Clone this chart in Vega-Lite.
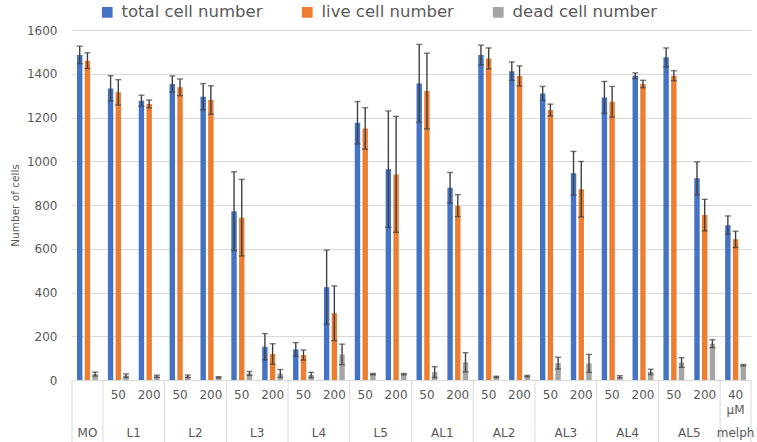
{
  "$schema": "https://vega.github.io/schema/vega-lite/v6.json",
  "padding": {"left": 10, "top": 4, "right": 5, "bottom": 0},
  "spacing": 0,
  "bounds": "flush",
  "config": {
    "font": "DejaVu Sans",
    "view": {"stroke": null},
    "legend": {
      "orient": "none", "legendX": 27, "legendY": -26, "direction": "horizontal",
      "symbolType": "square", "symbolSize": 115, "symbolStrokeWidth": 0,
      "labelFont": "DejaVu Sans", "labelFontSize": 16.5, "labelColor": "#595959",
      "labelOffset": 6, "columnPadding": 36
    }
  },
  "datasets": {
    "bars": [
      {"cat": "MO", "series": "total cell number", "value": 1486, "err": 40},
      {"cat": "MO", "series": "live cell number", "value": 1460, "err": 36},
      {"cat": "MO", "series": "dead cell number", "value": 27, "err": 9},
      {"cat": "L1 50", "series": "total cell number", "value": 1333, "err": 58},
      {"cat": "L1 50", "series": "live cell number", "value": 1315, "err": 58},
      {"cat": "L1 50", "series": "dead cell number", "value": 20, "err": 8},
      {"cat": "L1 200", "series": "total cell number", "value": 1277, "err": 25},
      {"cat": "L1 200", "series": "live cell number", "value": 1262, "err": 18},
      {"cat": "L1 200", "series": "dead cell number", "value": 17, "err": 5},
      {"cat": "L2 50", "series": "total cell number", "value": 1353, "err": 37},
      {"cat": "L2 50", "series": "live cell number", "value": 1338, "err": 38},
      {"cat": "L2 50", "series": "dead cell number", "value": 17, "err": 6},
      {"cat": "L2 200", "series": "total cell number", "value": 1295, "err": 60},
      {"cat": "L2 200", "series": "live cell number", "value": 1280, "err": 65},
      {"cat": "L2 200", "series": "dead cell number", "value": 12, "err": 3},
      {"cat": "L3 50", "series": "total cell number", "value": 772, "err": 180},
      {"cat": "L3 50", "series": "live cell number", "value": 742, "err": 175},
      {"cat": "L3 50", "series": "dead cell number", "value": 30, "err": 9},
      {"cat": "L3 200", "series": "total cell number", "value": 152, "err": 60},
      {"cat": "L3 200", "series": "live cell number", "value": 119, "err": 47},
      {"cat": "L3 200", "series": "dead cell number", "value": 30, "err": 18},
      {"cat": "L4 50", "series": "total cell number", "value": 140, "err": 31},
      {"cat": "L4 50", "series": "live cell number", "value": 114, "err": 23},
      {"cat": "L4 50", "series": "dead cell number", "value": 23, "err": 12},
      {"cat": "L4 200", "series": "total cell number", "value": 424, "err": 170},
      {"cat": "L4 200", "series": "live cell number", "value": 305, "err": 125},
      {"cat": "L4 200", "series": "dead cell number", "value": 117, "err": 47},
      {"cat": "L5 50", "series": "total cell number", "value": 1176, "err": 97},
      {"cat": "L5 50", "series": "live cell number", "value": 1150, "err": 95},
      {"cat": "L5 50", "series": "dead cell number", "value": 27, "err": 3},
      {"cat": "L5 200", "series": "total cell number", "value": 964, "err": 266},
      {"cat": "L5 200", "series": "live cell number", "value": 940, "err": 265},
      {"cat": "L5 200", "series": "dead cell number", "value": 27, "err": 3},
      {"cat": "AL1 50", "series": "total cell number", "value": 1356, "err": 178},
      {"cat": "AL1 50", "series": "live cell number", "value": 1321, "err": 173},
      {"cat": "AL1 50", "series": "dead cell number", "value": 36, "err": 25},
      {"cat": "AL1 200", "series": "total cell number", "value": 879, "err": 70},
      {"cat": "AL1 200", "series": "live cell number", "value": 797, "err": 50},
      {"cat": "AL1 200", "series": "dead cell number", "value": 81, "err": 44},
      {"cat": "AL2 50", "series": "total cell number", "value": 1486, "err": 45},
      {"cat": "AL2 50", "series": "live cell number", "value": 1470, "err": 48},
      {"cat": "AL2 50", "series": "dead cell number", "value": 14, "err": 3},
      {"cat": "AL2 200", "series": "total cell number", "value": 1412, "err": 42},
      {"cat": "AL2 200", "series": "live cell number", "value": 1390, "err": 46},
      {"cat": "AL2 200", "series": "dead cell number", "value": 18, "err": 3},
      {"cat": "AL3 50", "series": "total cell number", "value": 1310, "err": 32},
      {"cat": "AL3 50", "series": "live cell number", "value": 1234, "err": 27},
      {"cat": "AL3 50", "series": "dead cell number", "value": 77, "err": 27},
      {"cat": "AL3 200", "series": "total cell number", "value": 945, "err": 100},
      {"cat": "AL3 200", "series": "live cell number", "value": 872, "err": 127},
      {"cat": "AL3 200", "series": "dead cell number", "value": 76, "err": 41},
      {"cat": "AL4 50", "series": "total cell number", "value": 1292, "err": 73},
      {"cat": "AL4 50", "series": "live cell number", "value": 1272, "err": 70},
      {"cat": "AL4 50", "series": "dead cell number", "value": 15, "err": 5},
      {"cat": "AL4 200", "series": "total cell number", "value": 1391, "err": 13},
      {"cat": "AL4 200", "series": "live cell number", "value": 1353, "err": 17},
      {"cat": "AL4 200", "series": "dead cell number", "value": 37, "err": 12},
      {"cat": "AL5 50", "series": "total cell number", "value": 1475, "err": 43},
      {"cat": "AL5 50", "series": "live cell number", "value": 1391, "err": 23},
      {"cat": "AL5 50", "series": "dead cell number", "value": 80, "err": 22},
      {"cat": "AL5 200", "series": "total cell number", "value": 922, "err": 75},
      {"cat": "AL5 200", "series": "live cell number", "value": 754, "err": 72},
      {"cat": "AL5 200", "series": "dead cell number", "value": 166, "err": 18},
      {"cat": "melph", "series": "total cell number", "value": 708, "err": 42},
      {"cat": "melph", "series": "live cell number", "value": 643, "err": 37},
      {"cat": "melph", "series": "dead cell number", "value": 68, "err": 3}
    ],
    "sublabels": [
      {"cat": "L1 50", "label": "50", "line": 1}, {"cat": "L1 200", "label": "200", "line": 1},
      {"cat": "L2 50", "label": "50", "line": 1}, {"cat": "L2 200", "label": "200", "line": 1},
      {"cat": "L3 50", "label": "50", "line": 1}, {"cat": "L3 200", "label": "200", "line": 1},
      {"cat": "L4 50", "label": "50", "line": 1}, {"cat": "L4 200", "label": "200", "line": 1},
      {"cat": "L5 50", "label": "50", "line": 1}, {"cat": "L5 200", "label": "200", "line": 1},
      {"cat": "AL1 50", "label": "50", "line": 1}, {"cat": "AL1 200", "label": "200", "line": 1},
      {"cat": "AL2 50", "label": "50", "line": 1}, {"cat": "AL2 200", "label": "200", "line": 1},
      {"cat": "AL3 50", "label": "50", "line": 1}, {"cat": "AL3 200", "label": "200", "line": 1},
      {"cat": "AL4 50", "label": "50", "line": 1}, {"cat": "AL4 200", "label": "200", "line": 1},
      {"cat": "AL5 50", "label": "50", "line": 1}, {"cat": "AL5 200", "label": "200", "line": 1},
      {"cat": "melph", "label": "40", "line": 1}, {"cat": "melph", "label": "µM", "line": 2}
    ],
    "pairgroups": [
      {"cat": "L1 50", "label": "L1", "line": 3.5}, {"cat": "L2 50", "label": "L2", "line": 3.5},
      {"cat": "L3 50", "label": "L3", "line": 3.5}, {"cat": "L4 50", "label": "L4", "line": 3.5},
      {"cat": "L5 50", "label": "L5", "line": 3.5}, {"cat": "AL1 50", "label": "AL1", "line": 3.5},
      {"cat": "AL2 50", "label": "AL2", "line": 3.5}, {"cat": "AL3 50", "label": "AL3", "line": 3.5},
      {"cat": "AL4 50", "label": "AL4", "line": 3.5}, {"cat": "AL5 50", "label": "AL5", "line": 3.5}
    ],
    "singlegroups": [
      {"cat": "MO", "label": "MO", "line": 3.5}, {"cat": "melph", "label": "melph", "line": 3.5}
    ],
    "groupstarts": [
      {"cat": "MO"}, {"cat": "L1 50"}, {"cat": "L2 50"}, {"cat": "L3 50"}, {"cat": "L4 50"},
      {"cat": "L5 50"}, {"cat": "AL1 50"}, {"cat": "AL2 50"}, {"cat": "AL3 50"}, {"cat": "AL4 50"},
      {"cat": "AL5 50"}, {"cat": "melph"}
    ],
    "lastcat": [{"cat": "melph"}]
  },
  "vconcat": [
    {
      "width": 679,
      "height": 350,
      "data": {"name": "bars"},
      "encoding": {
        "x": {
          "field": "cat", "type": "nominal", "axis": null,
          "scale": {
            "domain": ["MO","L1 50","L1 200","L2 50","L2 200","L3 50","L3 200","L4 50","L4 200","L5 50","L5 200","AL1 50","AL1 200","AL2 50","AL2 200","AL3 50","AL3 200","AL4 50","AL4 200","AL5 50","AL5 200","melph"],
            "paddingInner": 0, "paddingOuter": 0
          }
        },
        "xOffset": {
          "field": "series", "type": "nominal",
          "scale": {"domain": ["total cell number", "live cell number", "dead cell number"], "paddingInner": 0.3, "paddingOuter": 0.65}
        }
      },
      "layer": [
        {
          "mark": {"type": "bar"},
          "encoding": {
            "y": {
              "field": "value", "type": "quantitative", "title": "Number of cells",
              "scale": {"domain": [0, 1600], "nice": false},
              "axis": {
                "title": "Number of cells", "titleFontSize": 10.5, "titleFontWeight": "normal",
                "titleColor": "#595959", "titlePadding": 6, "format": "d",
                "labelFontSize": 12, "labelColor": "#595959", "labelPadding": 15,
                "ticks": false, "tickSize": 0, "domain": false,
                "gridColor": "#d9d9d9", "gridWidth": 1,
                "values": [0, 200, 400, 600, 800, 1000, 1200, 1400, 1600]
              }
            },
            "color": {
              "field": "series", "type": "nominal", "title": null,
              "scale": {"domain": ["total cell number", "live cell number", "dead cell number"], "range": ["#4472C4", "#ED7D31", "#A5A5A5"]}
            }
          }
        },
        {
          "mark": {"type": "errorbar", "color": "#404040", "thickness": 1.4, "ticks": {"size": 6, "thickness": 1.4}},
          "encoding": {
            "y": {"field": "value", "type": "quantitative", "title": "Number of cells"},
            "yError": {"field": "err"}
          }
        }
      ]
    },
    {
      "width": 679,
      "height": 62,
      "encoding": {
        "x": {
          "field": "cat", "type": "nominal", "axis": null,
          "scale": {
            "domain": ["MO","L1 50","L1 200","L2 50","L2 200","L3 50","L3 200","L4 50","L4 200","L5 50","L5 200","AL1 50","AL1 200","AL2 50","AL2 200","AL3 50","AL3 200","AL4 50","AL4 200","AL5 50","AL5 200","melph"],
            "paddingInner": 0, "paddingOuter": 0
          }
        }
      },
      "layer": [
        {
          "data": {"name": "groupstarts"},
          "mark": {"type": "rule", "color": "#d9d9d9", "strokeWidth": 1},
          "encoding": {"x": {"field": "cat", "type": "nominal", "bandPosition": 0}}
        },
        {
          "data": {"name": "lastcat"},
          "mark": {"type": "rule", "color": "#d9d9d9", "strokeWidth": 1},
          "encoding": {"x": {"field": "cat", "type": "nominal", "bandPosition": 1}}
        },
        {
          "data": {"name": "sublabels"},
          "mark": {"type": "text", "fontSize": 12, "color": "#595959", "baseline": "middle", "align": "center"},
          "encoding": {
            "x": {"field": "cat", "type": "nominal", "bandPosition": 0.5},
            "y": {"field": "line", "type": "quantitative", "axis": null, "scale": {"domain": [0, 4.13], "reverse": true, "nice": false, "zero": false}},
            "text": {"field": "label"}
          }
        },
        {
          "data": {"name": "pairgroups"},
          "mark": {"type": "text", "fontSize": 12, "color": "#595959", "baseline": "middle", "align": "center"},
          "encoding": {
            "x": {"field": "cat", "type": "nominal", "bandPosition": 1},
            "y": {"field": "line", "type": "quantitative"},
            "text": {"field": "label"}
          }
        },
        {
          "data": {"name": "singlegroups"},
          "mark": {"type": "text", "fontSize": 12, "color": "#595959", "baseline": "middle", "align": "center"},
          "encoding": {
            "x": {"field": "cat", "type": "nominal", "bandPosition": 0.5},
            "y": {"field": "line", "type": "quantitative"},
            "text": {"field": "label"}
          }
        }
      ]
    }
  ]
}
